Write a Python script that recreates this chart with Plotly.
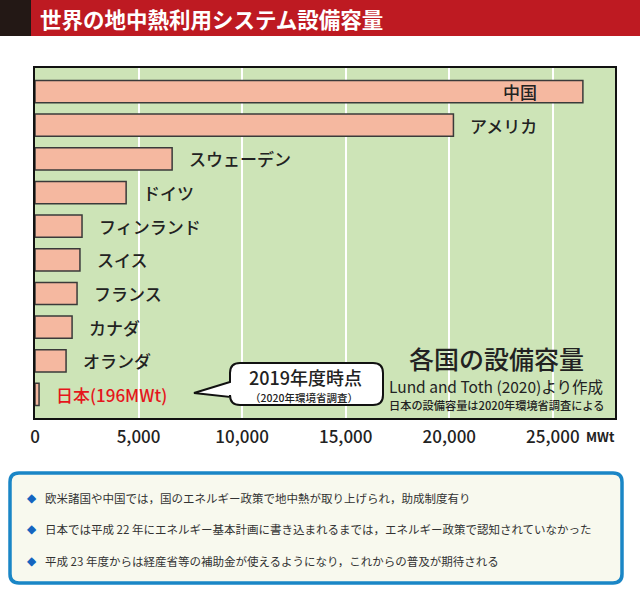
import plotly.graph_objects as go

countries = ["中国", "アメリカ", "スウェーデン", "ドイツ", "フィンランド", "スイス",
             "フランス", "カナダ", "オランダ", "日本(196MWt)"]
capacity_mwt = [26450, 20200, 6620, 4400, 2270, 2170, 2030, 1790, 1500, 196]
tick_values = [0, 5000, 10000, 15000, 20000, 25000]
tick_labels = ["0", "5,000", "10,000", "15,000", "20,000", "25,000"]
unit_label = "MWt"
title_text = "世界の地中熱利用システム設備容量"
callout_lines = ["2019年度時点", "（2020年環境省調査）"]
source_title = "各国の設備容量"
source_lines = ["Lund and Toth (2020)より作成", "日本の設備容量は2020年環境省調査による"]
bullets = [
    "欧米諸国や中国では，国のエネルギー政策で地中熱が取り上げられ，助成制度有り",
    "日本では平成 22 年にエネルギー基本計画に書き込まれるまでは，エネルギー政策で認知されていなかった",
    "平成 23 年度からは経産省等の補助金が使えるようになり，これからの普及が期待される",
]

W, H = 640, 595
L, R, T, B = 35, 615, 68, 418
JP = "Noto Sans CJK JP"


def px(x):
    return (x - L) / (R - L)


def py(y):
    return (B - y) / (B - T)


fig = go.Figure()
fig.add_trace(go.Bar(
    x=capacity_mwt, y=countries, orientation="h", width=0.66,
    marker=dict(color="#F5B8A0", line=dict(color="#3a3a3a", width=1.5)),
    hoverinfo="skip",
))

annotations = []
for i, (c, v) in enumerate(zip(countries, capacity_mwt)):
    if i == 0:
        annotations.append(dict(x=v, y=c, xref="x", yref="y", text=c, showarrow=False,
                                xanchor="right", xshift=-44,
                                font=dict(family=JP, size=17, color="#222", weight=500)))
    else:
        color = "#E5161C" if i == len(countries) - 1 else "#222"
        annotations.append(dict(x=v, y=c, xref="x", yref="y", text=c, showarrow=False,
                                xanchor="left", xshift=15,
                                font=dict(family=JP, size=17, color=color, weight=500)))

# unit after last tick
annotations.append(dict(x=tick_values[-1], y=py(436), xref="x", yref="paper",
                        text=unit_label, showarrow=False, xanchor="left", xshift=31,
                        yanchor="middle", font=dict(family=JP, size=13, color="#222", weight=700)))

# title
annotations.append(dict(x=px(38), y=py(18), xref="paper", yref="paper", text=title_text,
                        showarrow=False, xanchor="left", yanchor="middle",
                        font=dict(family=JP, size=21.5, color="white", weight="bold")))

# callout text
annotations.append(dict(x=px(305), y=py(377), xref="paper", yref="paper",
                        text=callout_lines[0], showarrow=False, xanchor="center", yanchor="middle",
                        borderpad=0,
                        font=dict(family=JP, size=18, color="#222", weight=500)))
annotations.append(dict(x=px(304), y=py(397), xref="paper", yref="paper",
                        text=callout_lines[1], showarrow=False, xanchor="center", yanchor="middle",
                        borderpad=0,
                        font=dict(family=JP, size=10.5, color="#222", weight=500)))

# source text
annotations.append(dict(x=px(496), y=py(358), xref="paper", yref="paper",
                        text=source_title, showarrow=False, xanchor="center", yanchor="middle",
                        borderpad=0,
                        font=dict(family=JP, size=25, color="#222", weight=500)))
annotations.append(dict(x=px(388), y=py(386), xref="paper", yref="paper",
                        text=source_lines[0], showarrow=False, xanchor="left", yanchor="middle",
                        borderpad=0,
                        font=dict(family=JP, size=15.5, color="#222")))
annotations.append(dict(x=px(388), y=py(405), xref="paper", yref="paper",
                        text=source_lines[1], showarrow=False, xanchor="left", yanchor="middle",
                        borderpad=0,
                        font=dict(family=JP, size=11.2, color="#222", weight=500)))

# bullets
for j, (line, yy) in enumerate(zip(bullets, [498, 529, 561])):
    annotations.append(dict(x=px(32), y=py(yy), xref="paper", yref="paper", text="◆",
                            showarrow=False, xanchor="center", yanchor="middle",
                            font=dict(family="DejaVu Sans", size=12, color="#1565C0")))
    annotations.append(dict(x=px(43), y=py(yy), xref="paper", yref="paper", text=line,
                            showarrow=False, xanchor="left", yanchor="middle",
                            font=dict(family=JP, size=11.5, color="#333")))

shapes = []
# title bar
shapes.append(dict(type="rect", xref="paper", yref="paper", x0=px(0), x1=px(31), y0=py(0), y1=py(36),
                   fillcolor="#231815", line=dict(width=0), layer="above"))
shapes.append(dict(type="rect", xref="paper", yref="paper", x0=px(31), x1=px(640), y0=py(0), y1=py(36),
                   fillcolor="#BE1A22", line=dict(width=0), layer="above"))


def rounded_path(l, t, r, b, rad, tail=None):
    pts = [f"M {px(l + rad)},{py(t)}", f"L {px(r - rad)},{py(t)}",
           f"Q {px(r)},{py(t)} {px(r)},{py(t + rad)}", f"L {px(r)},{py(b - rad)}",
           f"Q {px(r)},{py(b)} {px(r - rad)},{py(b)}", f"L {px(l + rad)},{py(b)}",
           f"Q {px(l)},{py(b)} {px(l)},{py(b - rad)}"]
    if tail:
        (ya, tx, ty, yb) = tail
        pts += [f"L {px(l)},{py(yb)}", f"L {px(tx)},{py(ty)}", f"L {px(l)},{py(ya)}"]
    pts += [f"L {px(l)},{py(t + rad)}", f"Q {px(l)},{py(t)} {px(l + rad)},{py(t)}", "Z"]
    return " ".join(pts)


# callout bubble
shapes.append(dict(type="path", xref="paper", yref="paper",
                   path=rounded_path(230, 363, 383, 405, 10, tail=(382, 194, 393, 397)),
                   fillcolor="white", line=dict(color="#111", width=2), layer="above"))
# bottom info box
shapes.append(dict(type="path", xref="paper", yref="paper",
                   path=rounded_path(10, 473, 622, 583, 9),
                   fillcolor="#F8F9EE", line=dict(color="#1A86C6", width=3.5), layer="below"))

fig.update_layout(
    width=W, height=H,
    margin=dict(l=L, r=W - R, t=T, b=H - B),
    paper_bgcolor="white", plot_bgcolor="#CDE4B7",
    showlegend=False, bargap=0.34,
    annotations=annotations, shapes=shapes,
    xaxis=dict(range=[0, 28000], tickvals=tick_values, ticktext=tick_labels,
               showgrid=True, gridcolor="white", gridwidth=2, zeroline=False,
               showline=True, mirror=True, linecolor="#111", linewidth=2,
               ticks="", ticklabelstandoff=3,
               tickfont=dict(family=JP, size=17, color="#222", weight=500)),
    yaxis=dict(categoryorder="array", categoryarray=countries, range=[9.7, -0.7],
               showticklabels=False, showgrid=False, zeroline=False,
               showline=True, mirror=True, linecolor="#111", linewidth=2, ticks=""),
)

fig.write_html("out.html", config={"displayModeBar": False},
               post_script="document.body.style.margin='0';")
